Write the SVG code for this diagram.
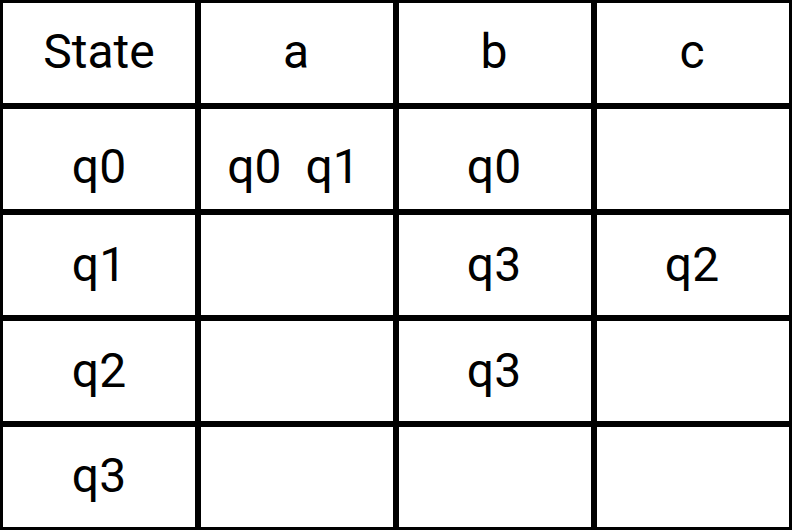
<svg xmlns="http://www.w3.org/2000/svg" width="792" height="530" viewBox="0 0 792 530">
<style>
.grid line{stroke:#000;stroke-width:6;}
text{font-family:Roboto,"Liberation Sans",sans-serif;font-size:48px;fill:#000;text-anchor:middle;white-space:pre;}
</style>
<rect x="0" y="0" width="792" height="530" fill="#fff"/>
<g id="grid" class="grid">
<line x1="0" y1="0" x2="0" y2="530"/>
<line x1="198" y1="0" x2="198" y2="530"/>
<line x1="396" y1="0" x2="396" y2="530"/>
<line x1="594" y1="0" x2="594" y2="530"/>
<line x1="792" y1="0" x2="792" y2="530"/>
<line x1="0" y1="0" x2="792" y2="0"/>
<line x1="0" y1="106" x2="792" y2="106"/>
<line x1="0" y1="212" x2="792" y2="212"/>
<line x1="0" y1="318" x2="792" y2="318"/>
<line x1="0" y1="424" x2="792" y2="424"/>
<line x1="0" y1="530" x2="792" y2="530"/>
</g>
<g id="header">
<text x="99" y="68">State</text>
<text x="296" y="68">a</text>
<text x="494" y="68">b</text>
<text x="692" y="68">c</text>
</g>
<g id="row-q0">
<text x="99" y="183">q0</text>
<text x="293.5" y="183" xml:space="preserve">q0  q1</text>
<text x="494" y="183">q0</text>
</g>
<g id="row-q1">
<text x="99" y="281">q1</text>
<text x="494" y="281">q3</text>
<text x="692" y="281">q2</text>
</g>
<g id="row-q2">
<text x="99" y="387">q2</text>
<text x="494" y="387">q3</text>
</g>
<g id="row-q3">
<text x="99" y="492">q3</text>
</g>
</svg>
